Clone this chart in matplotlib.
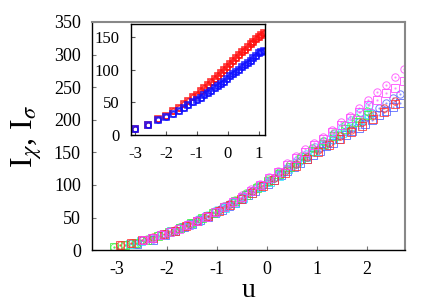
import matplotlib
matplotlib.use("Agg")
import matplotlib.pyplot as plt

plt.rcParams['font.family'] = ['Liberation Serif', 'DejaVu Serif']
plt.rcParams['mathtext.fontset'] = 'stix'
plt.rcParams['axes.unicode_minus'] = False

# main panel: five system sizes, squares and circles
u_blue = [-2.61, -2.29, -2.05, -1.85, -1.67, -1.50, -1.34, -1.19, -1.05, -0.91, -0.77, -0.64,
          -0.51, -0.38, -0.25, -0.12, 0.01, 0.14, 0.27, 0.40, 0.53, 0.66, 0.79, 0.92, 1.05,
          1.18, 1.31, 1.44, 1.57, 1.70, 1.83, 1.96, 2.10, 2.24, 2.38, 2.52, 2.66]
sq_blue = [10, 16, 23, 29, 35, 40, 46, 51, 57, 62, 68, 73, 79, 85, 91, 97, 102, 108, 115, 121,
           127, 134, 140, 146, 152, 159, 165, 171, 177, 182, 188, 194, 200, 207, 213, 219, 225]
ci_blue = [10, 17, 24, 30, 36, 41, 47, 53, 58, 64, 70, 75, 81, 87, 93, 99, 105, 111, 117, 124,
           130, 137, 143, 150, 156, 163, 169, 176, 182, 188, 196, 202, 210, 218, 225, 233, 239]

u_cyan = [-2.74, -2.52, -2.31, -2.11, -1.92, -1.74, -1.56, -1.38, -1.20, -1.02, -0.84, -0.66,
          -0.48, -0.30, -0.12, 0.06, 0.24, 0.42, 0.60, 0.78, 0.96, 1.14, 1.32, 1.50, 1.68,
          1.86, 2.04]
sq_cyan = [9, 14, 18, 23, 29, 34, 39, 45, 52, 58, 65, 72, 80, 88, 97, 105, 114, 124, 133, 143,
           152, 162, 171, 180, 190, 199, 209]
ci_cyan = [9, 15, 19, 24, 30, 35, 41, 47, 54, 61, 68, 75, 83, 91, 100, 108, 118, 128, 138, 148,
           158, 168, 178, 189, 200, 212, 223]

u_green = [-3.06, -2.84, -2.62, -2.40, -2.18, -1.96, -1.74, -1.52, -1.30, -1.08, -0.86, -0.64,
           -0.42, -0.20, 0.02, 0.24, 0.46, 0.68, 0.90, 1.12, 1.34, 1.56, 1.78, 2.00]
sq_green = [5, 8, 11, 16, 22, 28, 34, 41, 49, 57, 66, 75, 85, 95, 106, 117, 128, 140, 152, 163,
            175, 186, 197, 207]
ci_green = [5, 8, 11, 17, 23, 29, 35, 42, 50, 59, 68, 77, 87, 98, 109, 120, 132, 144, 156, 168,
            180, 192, 203, 213]

u_red = [-2.94, -2.72, -2.50, -2.28, -2.06, -1.84, -1.62, -1.40, -1.18, -0.96, -0.74, -0.52,
         -0.30, -0.08, 0.14, 0.36, 0.58, 0.80, 1.02, 1.24, 1.46, 1.68, 1.90, 2.12, 2.34, 2.56]
sq_red = [8, 11, 15, 19, 24, 30, 37, 44, 52, 60, 69, 78, 88, 98, 108, 118, 129, 140, 150, 161,
          171, 181, 191, 201, 212, 224]
ci_red = [8, 11, 16, 20, 25, 31, 38, 45, 53, 61, 70, 80, 90, 100, 110, 121, 132, 143, 154, 165,
          175, 185, 196, 207, 218, 229]

u_mag = [-2.49, -2.31, -2.13, -1.95, -1.77, -1.59, -1.41, -1.23, -1.05, -0.87, -0.69, -0.51,
         -0.33, -0.15, 0.03, 0.21, 0.39, 0.57, 0.75, 0.93, 1.11, 1.29, 1.47, 1.65, 1.83, 2.01,
         2.19, 2.37, 2.55, 2.73]
sq_mag = [15, 18, 23, 28, 33, 39, 45, 51, 58, 66, 74, 82, 91, 100, 110, 120, 131, 141, 151, 161,
          171, 181, 192, 202, 212, 222, 230, 241, 249, 260]
ci_mag = [16, 19, 24, 29, 34, 40, 46, 52, 59, 67, 75, 84, 93, 102, 112, 122, 133, 144, 155, 164,
          174, 185, 197, 206, 218, 230, 242, 254, 266, 278]

# inset: two quantities for one size
u_in = [-3.00, -2.57, -2.24, -1.99, -1.77, -1.59, -1.42, -1.27, -1.13, -1.00, -0.88, -0.76,
        -0.65, -0.54, -0.43, -0.33, -0.23, -0.13, -0.03, 0.07, 0.17, 0.27, 0.37, 0.46, 0.55,
        0.64, 0.73, 0.82, 0.91, 1.00, 1.08, 1.16]
in_red = [9, 16, 24, 30, 37, 42, 48, 53, 58, 62, 67, 72, 77, 81, 86, 91, 95, 100, 104, 109,
          114, 118, 123, 127, 131, 135, 139, 143, 147, 151, 154, 157]
in_blue = [9, 16, 23, 28, 33, 37, 42, 46, 50, 54, 57, 61, 64, 68, 72, 75, 79, 82, 86, 90, 93,
           97, 100, 104, 107, 111, 114, 118, 121, 125, 127, 129]

fig = plt.figure(figsize=(4.36, 3.05), dpi=100)
ax = fig.add_axes([0.211, 0.180, 0.718, 0.748])

series = [
    (u_blue, sq_blue, ci_blue, '#5060ff'),
    (u_cyan, sq_cyan, ci_cyan, '#30e0ff'),
    (u_green, sq_green, ci_green, '#40f040'),
    (u_red, sq_red, ci_red, '#ff3030'),
    (u_mag, sq_mag, ci_mag, '#ff40ff'),
]
for u, sq, ci, col in series:
    ax.plot(u, sq, ls='none', marker='s', ms=5.3, mfc='none', mec=col, mew=0.7, alpha=0.8)
    ax.plot(u, ci, ls='none', marker='o', ms=5.3, mfc='none', mec=col, mew=0.7, alpha=0.8)
    ax.plot(u, sq, ls='none', marker='.', ms=1.2, color=col, alpha=0.6)
    ax.plot(u, ci, ls='none', marker='.', ms=1.2, color=col, alpha=0.6)

ax.set_xlim(-3.5, 2.76)
ax.set_ylim(0, 350)
ax.set_xticks([-3, -2, -1, 0, 1, 2])
ax.set_yticks(range(0, 351, 50))
ax.tick_params(direction='in', length=3, width=0.8, labelsize=13, pad=8, color='#777777')
for side in ['top', 'right']:
    ax.spines[side].set_color('#888888')
    ax.spines[side].set_linewidth(1.5)
for side in ['left', 'bottom']:
    ax.spines[side].set_linewidth(1.0)
ax.set_xlabel('u', fontsize=20, labelpad=0)
ax.set_ylabel(r'I$_{\chi}$, I$_{\sigma}$', fontsize=23, labelpad=7)

ins = fig.add_axes([0.300, 0.557, 0.308, 0.364])
for v, col in [(in_red, '#ff1010'), (in_blue, '#1010ff')]:
    ins.plot(u_in, v, ls='none', marker='s', ms=4.5, mfc='none', mec=col, mew=1.2, alpha=0.85)
    ins.plot(u_in, v, ls='none', marker='o', ms=3.8, mfc='none', mec=col, mew=1.0, alpha=0.85)
ins.set_xlim(-3.13, 1.2)
ins.set_ylim(0, 170)
ins.set_xticks([-3, -2, -1, 0, 1])
ins.set_yticks([0, 50, 100, 150])
ins.tick_params(direction='in', length=3, width=0.8, labelsize=12, pad=8, color='#555555')
for s in ins.spines.values():
    s.set_linewidth(1.0)

fig.savefig('out.png', dpi=100)
